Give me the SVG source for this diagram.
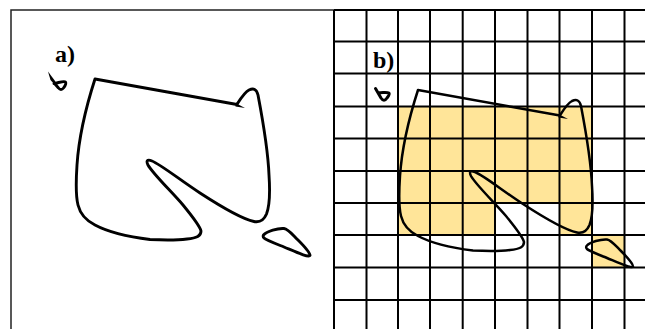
<svg xmlns="http://www.w3.org/2000/svg" width="645" height="329" viewBox="0 0 645 329">
<style>
.k{fill:none;stroke:#000;stroke-linejoin:round;stroke-linecap:round}
.c{stroke-width:2.900}
.d{stroke-width:2.500}
.g{stroke:#000;stroke-width:2;fill:none}
.l{font-family:"Liberation Serif",serif;font-weight:bold;font-size:24px;fill:#000}
</style>
<defs>
<path id="main" d="M95 79L237 104.500L237.500 103.500C241 98 245 92 249 90C253.500 88 256.500 89 258 95C262 116 268 150 269 175C270 190 270 205 266.500 214C263.500 221 259 222.500 254 221.500C242 219 220 206 200 193C180 180 160 164 152 161C147 159 146 161 148 165C153 174 172 192 183 205C192 216 200 226 201 231C201 236 197 238 187 239C175 240.500 160 240 150 239.500C130 237 108 232 95 225C85 220 80 213 78 205C75.500 195 76 180 77 165C79 135 85 110 95 79Z"/>
<path id="spur" d="M235.500 103L245 108L235.500 106.500Z" fill="#000"/>
<path id="blob" d="M263.500 235C267 231 278 228 284 228.500C288 229 292 234 298 240C304 246 310 253 310 255.500C309 258 296 252 284 247C274 243 266 240 264 238C263 237 263 236 263.500 235Z"/>
</defs>
<g id="panel-a">
<path d="M11 329V10H334" fill="none" stroke="#222" stroke-width="1.500"/>
<text class="l" x="55" y="62">a)</text>
<path d="M55 84L58.500 88C60 90 62 90 63.500 88C65 86 66.500 83.500 65.500 82C64 80.500 58 83 54 83.500" class="k c"/>
<path d="M48 71.500L50.500 80L55 85L56.500 83Z" fill="#000"/>
<use href="#main" class="k c"/>
<use href="#spur"/>
<use href="#blob" class="k c"/>
</g>
<g id="panel-b">
<path fill="#ffe599" d="M398 106.500H592V235H559.500V203H495V235H398ZM592 235H624.500V267.500H592Z"/>
<path class="g" d="M334 10V329M366.500 10V329M398 10V329M430 10V329M462.700 10V329M495 10V329M527.500 10V329M559.500 10V329M592 10V329M624.500 10V329"/>
<path class="g" d="M334 10H645M334 41.500H645M334 73.500H645M334 106.500H645M334 138.500H645M334 171H645M334 203H645M334 235H645M334 267.500H645M334 300H645"/>
<text class="l" x="373" y="68">b)</text>
<g transform="translate(323 11)">
<use href="#main" class="k d"/>
<use href="#spur"/>
<use href="#blob" class="k d"/>
<path d="M52.500 77.500L58 87C60 90 62 90 64 87C65.500 85 67 83 66 82C64 81 58 82 55 81.500" class="k" stroke-width="3"/>
</g>
</g>
</svg>
